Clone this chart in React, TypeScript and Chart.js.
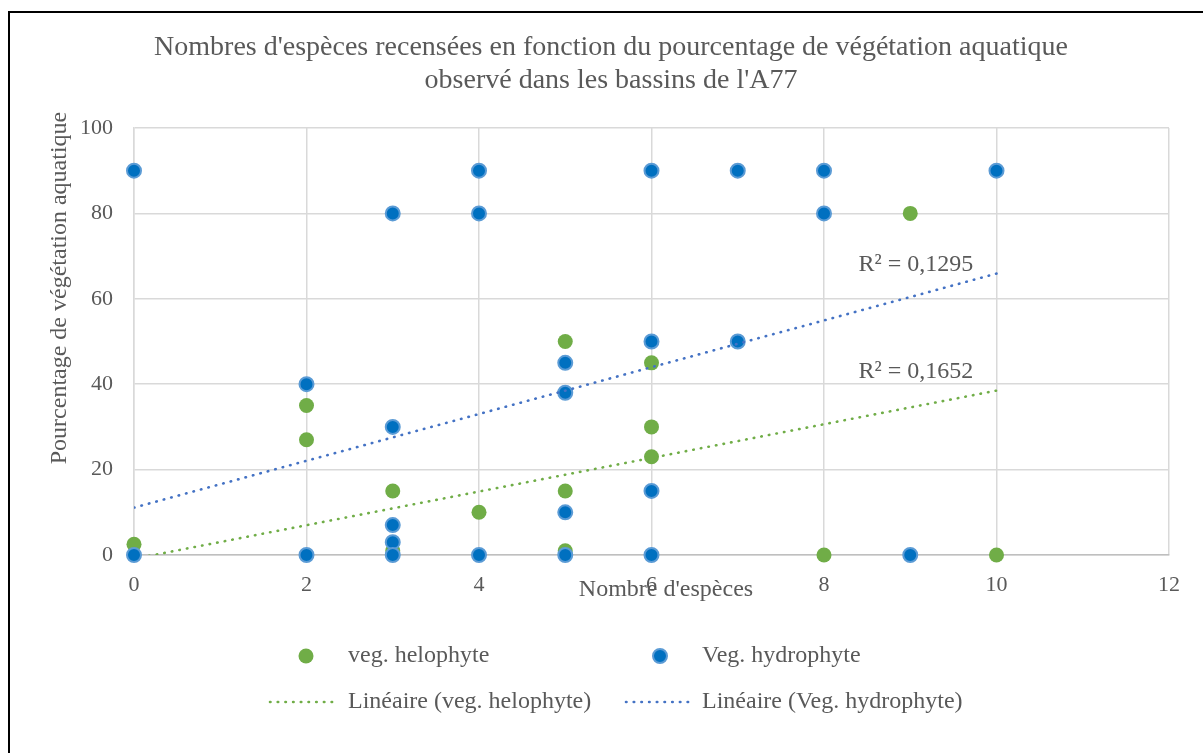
import { useEffect, useRef } from "react";
import { Chart, registerables } from "chart.js";

Chart.register(...registerables);

// ---------- data ----------
const titleLines = [
  "Nombres d'espèces recensées en fonction du pourcentage de végétation aquatique",
  "observé dans les bassins de l'A77",
];
const xAxisTitle = "Nombre d'espèces";
const yAxisTitle = "Pourcentage de végétation aquatique";

const seriesLabels = [
  "veg. helophyte",
  "Veg. hydrophyte",
  "Linéaire (veg. helophyte)",
  "Linéaire (Veg. hydrophyte)",
];

const helophyteX = [0, 2, 2, 3, 3, 4, 5, 5, 5, 6, 6, 6, 8, 9, 10];
const helophyteY = [2.5, 35, 27, 15, 1, 10, 50, 15, 1, 45, 30, 23, 0, 80, 0];

const hydrophyteX = [0, 0, 2, 2, 3, 3, 3, 3, 3, 4, 4, 4, 5, 5, 5, 5, 6, 6, 6, 6, 7, 7, 8, 8, 9, 10];
const hydrophyteY = [90, 0, 40, 0, 80, 30, 7, 3, 0, 90, 80, 0, 45, 38, 10, 0, 90, 50, 15, 0, 90, 50, 90, 80, 0, 90];

// trend lines
const trendX = [0, 10];
const helophyteTrendY = [-0.9, 38.5];
const hydrophyteTrendY = [11.1, 65.9];

const helophyteR2 = "R² = 0,1652";
const hydrophyteR2 = "R² = 0,1295";
// anchor of the R² labels in data units
const r2LabelX = [8.4, 8.4];
const r2LabelY = [42.9, 67.9]; // helophyte, hydrophyte

const xMin = 0, xMax = 12, xStep = 2;
const yMin = 0, yMax = 100, yStep = 20;

const GREEN = "#70AD47";
const BLUE = "#0070C0";
const BLUE_RING = "#5B9BD5";
const BLUE_TREND = "#4472C4";
const TEXT = "#595959";
const FONT = "'Liberation Serif', 'Times New Roman', serif";

const zip = (xs: number[], ys: number[]) => xs.map((x, i) => ({ x, y: ys[i] }));

export default function App() {
  const ref = useRef<HTMLCanvasElement | null>(null);

  useEffect(() => {
    if (!ref.current) return;

    const overlay = {
      id: "overlay",
      beforeDraw(chart: any) {
        const ctx = chart.ctx;
        ctx.save();
        ctx.fillStyle = "#ffffff";
        ctx.fillRect(0, 0, chart.width, chart.height);
        ctx.restore();
      },
      afterDraw(chart: any) {
        const ctx = chart.ctx;
        const xs = chart.scales.x;
        const ys = chart.scales.y;
        ctx.save();
        // frame (left & top edges visible)
        ctx.strokeStyle = "#000000";
        ctx.lineWidth = 2;
        ctx.beginPath();
        ctx.moveTo(9, 753);
        ctx.lineTo(9, 12);
        ctx.lineTo(1203, 12);
        ctx.stroke();

        ctx.fillStyle = TEXT;
        ctx.textBaseline = "middle";
        // title
        ctx.font = `28px ${FONT}`;
        ctx.textAlign = "center";
        ctx.fillText(titleLines[0], 611, 48);
        ctx.fillText(titleLines[1], 611, 81);

        // axis titles
        ctx.font = `24px ${FONT}`;
        ctx.fillText(xAxisTitle, 666, 590);
        ctx.save();
        ctx.translate(60, 288);
        ctx.rotate(-Math.PI / 2);
        ctx.fillText(yAxisTitle, 0, 0);
        ctx.restore();

        // R² labels
        ctx.textAlign = "left";
        ctx.font = `24px ${FONT}`;
        ctx.fillText(helophyteR2, xs.getPixelForValue(r2LabelX[0]), ys.getPixelForValue(r2LabelY[0]));
        ctx.fillText(hydrophyteR2, xs.getPixelForValue(r2LabelX[1]), ys.getPixelForValue(r2LabelY[1]));

        // legend
        const ds = chart.data.datasets;
        const row1 = 656, row2 = 702;
        const drawDot = (cx: number, cy: number, d: any) => {
          ctx.beginPath();
          ctx.arc(cx, cy, d.pointRadius, 0, Math.PI * 2);
          ctx.fillStyle = d.backgroundColor;
          ctx.fill();
          if (d.borderWidth) {
            ctx.lineWidth = d.borderWidth;
            ctx.strokeStyle = d.borderColor;
            ctx.stroke();
          }
        };
        const drawDots = (x0: number, x1: number, cy: number, d: any) => {
          ctx.beginPath();
          ctx.setLineDash(d.borderDash);
          ctx.lineCap = "round";
          ctx.lineWidth = d.borderWidth;
          ctx.strokeStyle = d.borderColor;
          ctx.moveTo(x0, cy);
          ctx.lineTo(x1, cy);
          ctx.stroke();
          ctx.setLineDash([]);
        };
        drawDot(306, row1, ds[0]);
        drawDot(660, row1, ds[1]);
        drawDots(270, 338, row2, ds[2]);
        drawDots(626, 692, row2, ds[3]);
        ctx.fillStyle = TEXT;
        ctx.font = `24px ${FONT}`;
        ctx.textAlign = "left";
        ctx.fillText(ds[0].label, 348, row1);
        ctx.fillText(ds[1].label, 702, row1);
        ctx.fillText(ds[2].label, 348, row2);
        ctx.fillText(ds[3].label, 702, row2);
        ctx.restore();
      },
    };

    const chart = new Chart(ref.current, {
      type: "scatter",
      data: {
        datasets: [
          {
            label: seriesLabels[0],
            data: zip(helophyteX, helophyteY),
            backgroundColor: GREEN,
            borderColor: GREEN,
            borderWidth: 0,
            pointRadius: 7.5,
            pointHoverRadius: 7.5,
            clip: false,
            order: 3,
          },
          {
            label: seriesLabels[1],
            data: zip(hydrophyteX, hydrophyteY),
            backgroundColor: BLUE,
            borderColor: BLUE_RING,
            borderWidth: 2,
            pointRadius: 7,
            pointHoverRadius: 7,
            clip: false,
            order: 2,
          },
          {
            label: seriesLabels[2],
            data: zip(trendX, helophyteTrendY),
            showLine: true,
            borderColor: GREEN,
            backgroundColor: GREEN,
            borderWidth: 2.6,
            borderDash: [0.5, 7.2],
            borderCapStyle: "round",
            pointRadius: 0,
            clip: 0,
            order: 1,
          },
          {
            label: seriesLabels[3],
            data: zip(trendX, hydrophyteTrendY),
            showLine: true,
            borderColor: BLUE_TREND,
            backgroundColor: BLUE_TREND,
            borderWidth: 2.6,
            borderDash: [0.5, 7.2],
            borderCapStyle: "round",
            pointRadius: 0,
            clip: 0,
            order: 0,
          },
        ],
      } as any,
      options: {
        animation: false,
        responsive: false,
        events: [],
        layout: { padding: { left: 0, right: 34, top: 128, bottom: 138 } },
        plugins: {
          legend: { display: false },
          title: { display: false },
          tooltip: { enabled: false },
        },
        scales: {
          x: {
            type: "linear",
            min: xMin,
            max: xMax,
            afterFit: (s: any) => { s.height = 60; },
            ticks: {
              stepSize: xStep,
              padding: 17,
              color: TEXT,
              font: { family: FONT, size: 22 },
            },
            grid: { color: "#D9D9D9", lineWidth: 1.5, drawTicks: false },
            border: { color: "#BFBFBF", width: 1.5 },
          },
          y: {
            type: "linear",
            min: yMin,
            max: yMax,
            afterFit: (s: any) => { s.width = 134; },
            ticks: {
              stepSize: yStep,
              padding: 21,
              color: TEXT,
              font: { family: FONT, size: 22 },
            },
            grid: { color: "#D9D9D9", lineWidth: 1.5, drawTicks: false },
            border: { color: "#D9D9D9", width: 1.5 },
          },
        },
      } as any,
      plugins: [overlay],
    });

    return () => chart.destroy();
  }, []);

  return (
    <div style={{ position: "absolute", left: 0, top: 0, width: 1203, height: 753, background: "#fff" }}>
      <canvas ref={ref} width={1203} height={753} style={{ width: 1203, height: 753, display: "block" }} />
    </div>
  );
}
